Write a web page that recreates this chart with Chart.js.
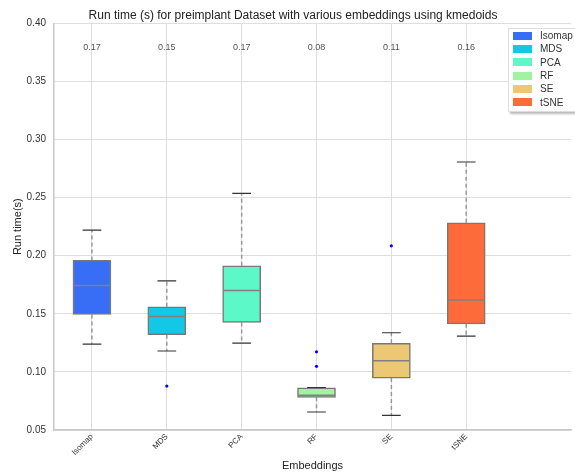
<!DOCTYPE html>
<html>
<head>
<meta charset="utf-8">
<script src="https://cdn.jsdelivr.net/npm/chart.js@4"></script>
<style>
    body { margin: 0; background: #fff; font-family: "Liberation Sans", Arial, sans-serif; }
    #wrap { position: relative; width: 575px; height: 475px; overflow: hidden; }
    #legend {
        position: absolute; left: 508px; top: 28px; width: 80px; height: 82px;
        background: #fff; border: 1px solid #ddd; box-shadow: 2px 2px 2px #bbb;
        font-size: 10px; color: #333;
    }
    #legend div { height: 13.3px; display: flex; align-items: center; padding-left: 4px; }
    #legend span.sw { display: inline-block; width: 19px; height: 8px; margin-right: 8px; }
</style>
</head>
<body>
<div id="wrap">
    <canvas id="chart" width="575" height="475"></canvas>
    <div id="legend"></div>
</div>
<script>
// Data
const embeddings = ['Isomap', 'MDS', 'PCA', 'RF', 'SE', 'tSNE'];
const colors = ['#386df5', '#13c7e6', '#5cf8c8', '#a1f3a0', '#edc874', '#fe6b3a'];
const whiskerLow = [0.124, 0.118, 0.1248, 0.0655, 0.0626, 0.1308];
const q1 = [0.1495, 0.132, 0.1426, 0.0781, 0.0947, 0.1414];
const medians = [0.1744, 0.1478, 0.170, 0.0800, 0.1096, 0.1618];
const q3 = [0.196, 0.156, 0.1913, 0.0864, 0.1246, 0.2283];
const whiskerHigh = [0.222, 0.1784, 0.2536, 0.0866, 0.1337, 0.2807];
const outliers = [[], [0.0878], [], [0.1173, 0.1048], [0.2085], []];
const meanLabels = ['0.17', '0.15', '0.17', '0.08', '0.11', '0.16'];
const yTicks = [0.05, 0.10, 0.15, 0.20, 0.25, 0.30, 0.35, 0.40];

document.addEventListener('DOMContentLoaded', function() {
    buildLegend();
    drawChart();
});

function buildLegend() {
    const legend = document.getElementById('legend');
    embeddings.forEach((name, i) => {
        const row = document.createElement('div');
        row.innerHTML = `<span class="sw" style="background:${colors[i]}"></span>${name}`;
        legend.appendChild(row);
    });
}

function drawChart() {
    // Boxes: one floating bar per embedding
    const boxes = embeddings.map((name, i) => ({
        type: 'bar',
        label: name,
        data: [{ x: i, y: [q1[i], q3[i]] }],
        backgroundColor: colors[i],
        borderColor: '#777',
        borderWidth: 1.5,
        borderSkipped: false,
        barThickness: 38,
        grouped: false,
        order: 2
    }));

    // Line segments separated by gaps
    const whiskerPts = [], capPts = [], medianPts = [], outlierPts = [];
    embeddings.forEach((_, i) => {
        whiskerPts.push({ x: i, y: q3[i] }, { x: i, y: whiskerHigh[i] }, { x: i, y: null });
        whiskerPts.push({ x: i, y: q1[i] }, { x: i, y: whiskerLow[i] }, { x: i, y: null });
        capPts.push({ x: i - 0.125, y: whiskerHigh[i] }, { x: i + 0.125, y: whiskerHigh[i] }, { x: i, y: null });
        capPts.push({ x: i - 0.125, y: whiskerLow[i] }, { x: i + 0.125, y: whiskerLow[i] }, { x: i, y: null });
        medianPts.push({ x: i - 0.25, y: medians[i] }, { x: i + 0.25, y: medians[i] }, { x: i, y: null });
        outliers[i].forEach(v => outlierPts.push({ x: i, y: v }));
    });

    const lineBase = { type: 'line', pointRadius: 0, fill: false, spanGaps: false, tension: 0 };

    const datasets = [
        ...boxes,
        { ...lineBase, label: 'whiskers', data: whiskerPts, borderColor: '#999', borderWidth: 1.5, borderDash: [4, 3], order: 3 },
        { ...lineBase, label: 'caps', data: capPts, borderColor: '#333', borderWidth: 1.2, order: 1 },
        { ...lineBase, label: 'medians', data: medianPts, borderColor: '#808080', borderWidth: 1.5, order: 0 },
        { type: 'scatter', label: 'outliers', data: outlierPts, backgroundColor: '#0000ff', borderWidth: 0, pointRadius: 1.6, order: 0 }
    ];

    const meanText = {
        id: 'meanText',
        afterDatasetsDraw(chart) {
            const { ctx, scales } = chart;
            ctx.save();
            ctx.font = '9px "Liberation Sans", Arial, sans-serif';
            ctx.fillStyle = '#555';
            ctx.textAlign = 'center';
            ctx.textBaseline = 'middle';
            meanLabels.forEach((t, i) => {
                ctx.fillText(t, scales.x.getPixelForValue(i), scales.y.getPixelForValue(0.379));
            });
            ctx.restore();
        }
    };

    const font = { family: '"Liberation Sans", Arial, sans-serif' };

    new Chart(document.getElementById('chart'), {
        type: 'bar',
        data: { datasets },
        plugins: [meanText],
        options: {
            responsive: false,
            animation: false,
            layout: { padding: { left: 11, right: 0 } },
            plugins: {
                legend: { display: false },
                tooltip: { enabled: false },
                title: {
                    display: true,
                    text: 'Run time (s) for preimplant Dataset with various embeddings using kmedoids',
                    color: '#222',
                    font: { ...font, size: 12, weight: 'normal' },
                    padding: { top: 8, bottom: 1 }
                }
            },
            scales: {
                x: {
                    type: 'linear',
                    offset: false,
                    min: -0.507,
                    max: 6.4,
                    afterBuildTicks: axis => { axis.ticks = embeddings.map((_, i) => ({ value: i })); },
                    afterFit: axis => { axis.height = 45; },
                    ticks: {
                        callback: v => embeddings[v],
                        minRotation: 45,
                        maxRotation: 45,
                        color: '#333',
                        font: { ...font, size: 8 },
                        padding: 2
                    },
                    grid: { color: '#dedede', lineWidth: 1, drawTicks: false, offset: false },
                    border: { color: '#c8c8c8', width: 1.5 },
                    title: {
                        display: true,
                        text: 'Embeddings',
                        color: '#222',
                        font: { ...font, size: 11 },
                        padding: { top: 0, bottom: 2 }
                    }
                },
                y: {
                    min: 0.05,
                    max: 0.40,
                    afterBuildTicks: axis => { axis.ticks = yTicks.map(v => ({ value: v })); },
                    afterFit: axis => { axis.width = 43; },
                    ticks: {
                        callback: v => v.toFixed(2),
                        color: '#333',
                        font: { ...font, size: 10 },
                        padding: 8
                    },
                    grid: { color: '#dedede', lineWidth: 1, drawTicks: false },
                    border: { color: '#c8c8c8', width: 1.5 },
                    title: {
                        display: true,
                        text: 'Run time(s)',
                        color: '#222',
                        font: { ...font, size: 11 },
                        padding: { top: 0, bottom: 2 }
                    }
                }
            }
        }
    });
}
</script>
</body>
</html>
